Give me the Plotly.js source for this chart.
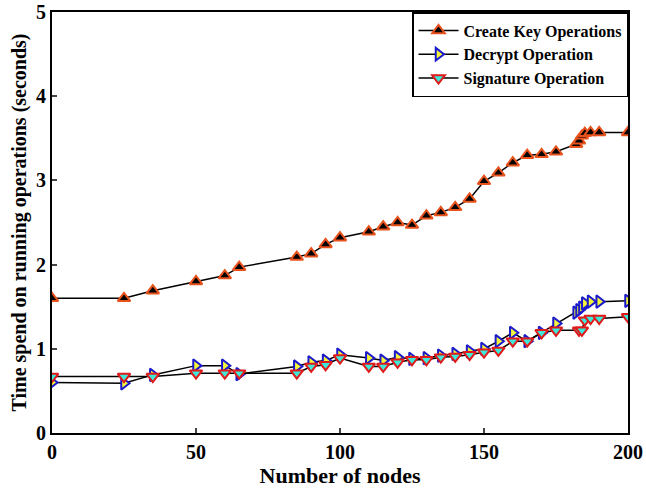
<!DOCTYPE html>
<html><head><meta charset="utf-8">
<script src="https://cdn.plot.ly/plotly-3.0.1.min.js"></script>
<style>html,body{margin:0;padding:0;background:#fff}</style>
</head><body>
<div id="chart" style="width:646px;height:497px"></div>
<script>
const createX = [0,25,35,50,60,65,85,90,95,100,110,115,120,125,130,135,140,145,150,155,160,165,170,175,182,183,184,185,187,190,200];
const createY = [1.6,1.6,1.69,1.8,1.87,1.97,2.09,2.13,2.24,2.32,2.39,2.45,2.5,2.47,2.58,2.62,2.68,2.78,2.99,3.09,3.21,3.3,3.31,3.34,3.43,3.47,3.53,3.56,3.57,3.57,3.57];
const decryptX = [0,25,35,50,60,65,85,90,95,100,110,115,120,125,130,135,140,145,150,155,160,165,170,175,182,183,184,185,187,190,200];
const decryptY = [0.6,0.59,0.69,0.8,0.8,0.7,0.79,0.84,0.86,0.93,0.89,0.86,0.9,0.88,0.89,0.92,0.94,0.97,1.0,1.09,1.19,1.09,1.19,1.3,1.43,1.46,1.49,1.54,1.56,1.56,1.57];
const signX = [0,25,35,50,60,65,85,90,95,100,110,115,120,125,130,135,140,145,150,155,160,165,170,175,183,184,185,187,190,200];
const signY = [0.67,0.67,0.67,0.71,0.71,0.71,0.71,0.79,0.81,0.89,0.79,0.79,0.84,0.87,0.87,0.9,0.91,0.93,0.96,0.98,1.09,1.09,1.19,1.22,1.22,1.22,1.34,1.36,1.36,1.38];
const seriesNames = ["Create Key Operations","Decrypt Operation","Signature Operation"];
const xTicks = [0,50,100,150,200];
const yTicks = [0,1,2,3,4,5];

const F = "Liberation Serif, Times New Roman, serif";
const traces = [
  {x:createX,y:createY,name:seriesNames[0],mode:"lines+markers",
   line:{color:"#000",width:1.5},
   marker:{symbol:"triangle-up",size:11,color:"#000",line:{color:"#e8521c",width:2}}},
  {x:decryptX,y:decryptY,name:seriesNames[1],mode:"lines+markers",
   line:{color:"#000",width:1.5},
   marker:{symbol:"triangle-right",size:11,color:"#f5f53a",line:{color:"#1a1acc",width:2}}},
  {x:signX,y:signY,name:seriesNames[2],mode:"lines+markers",
   line:{color:"#000",width:1.5},
   marker:{symbol:"triangle-down",size:11,color:"#3ee8d8",line:{color:"#e01a1a",width:2}}}
];
const layout = {
  width:646,height:497,
  margin:{l:52,r:18,t:12,b:64},
  paper_bgcolor:"#fff",plot_bgcolor:"#fff",
  font:{family:F,color:"#000"},
  showlegend:true,
  legend:{x:1,y:1,xanchor:"right",yanchor:"top",bgcolor:"#fff",bordercolor:"#000",borderwidth:1.5,
          font:{family:F,size:16,weight:"bold"},tracegroupgap:0,itemwidth:40},
  xaxis:{range:[0,200],tickvals:xTicks,ticks:"inside",ticklen:5,tickwidth:1.5,showline:true,linecolor:"#000",linewidth:2,mirror:true,
         showgrid:false,zeroline:false,tickfont:{family:F,size:20,weight:"bold"},ticklabeloverflow:"allow",
         title:{text:"Number of nodes",font:{family:F,size:22,weight:"bold"},standoff:6}},
  yaxis:{range:[0,5],tickvals:yTicks,ticks:"inside",ticklen:5,tickwidth:1.5,showline:true,linecolor:"#000",linewidth:2,mirror:true,
         showgrid:false,zeroline:false,tickfont:{family:F,size:20,weight:"bold"},ticklabeloverflow:"allow",
         title:{text:"Time spend on running operations (seconds)",font:{family:F,size:20,weight:"bold"},standoff:4}}
};
Plotly.newPlot("chart",traces,layout,{displayModeBar:false});
</script>
</body></html>
